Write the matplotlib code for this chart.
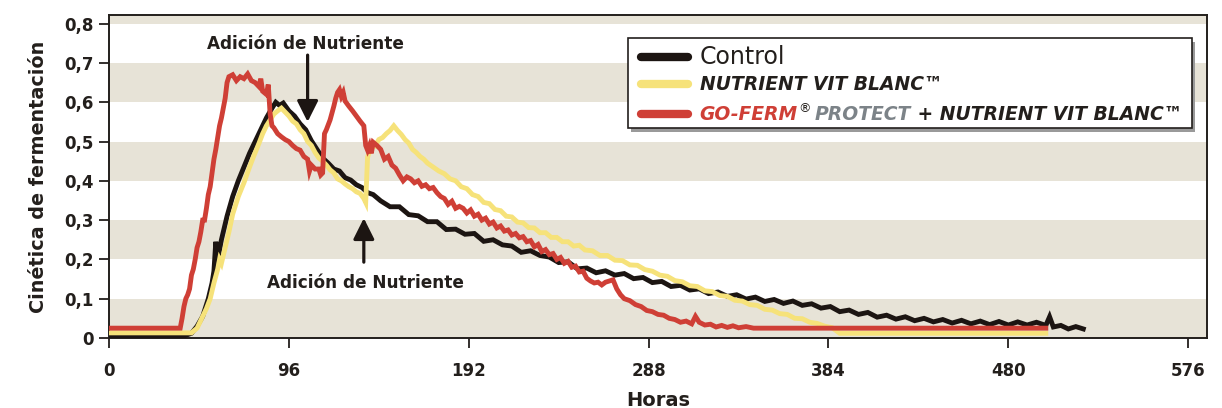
import matplotlib
matplotlib.use('Agg')
import matplotlib.pyplot as plt
from matplotlib.patches import Rectangle
from matplotlib.lines import Line2D

# ================= datos =================
hours_control = [0, 40, 44, 47, 50, 53, 55, 56, 57, 58, 60, 63, 66, 69, 72, 75, 78, 81, 84, 87,
                 89, 91, 93, 96, 99, 102, 105, 108, 111, 114, 117, 120, 123, 126, 129, 132, 135,
                 138, 141, 145, 150, 155, 160, 165, 170, 175, 180, 185, 190, 195, 200, 205, 210,
                 215, 220, 225, 230, 235, 240, 245, 250, 255, 260, 265, 270, 275, 280, 285, 290,
                 295, 300, 305, 310, 315, 320, 325, 330, 335, 340, 345, 350, 355, 360, 365, 370,
                 375, 380, 385, 390, 395, 400, 405, 410, 415, 420, 425, 430, 435, 440, 445, 450,
                 455, 460, 465, 470, 475, 480, 485, 490, 495, 500, 502, 504, 508, 512, 516, 520]
control = [0.005, 0.005, 0.012, 0.03, 0.055, 0.10, 0.14, 0.17, 0.245, 0.20, 0.25, 0.31, 0.36,
           0.40, 0.435, 0.47, 0.50, 0.53, 0.56, 0.585, 0.60, 0.592, 0.598, 0.578, 0.565, 0.545,
           0.530, 0.502, 0.48, 0.458, 0.445, 0.43, 0.425, 0.408, 0.402, 0.39, 0.383, 0.370,
           0.365, 0.349, 0.334, 0.334, 0.314, 0.311, 0.296, 0.296, 0.276, 0.277, 0.264, 0.266,
           0.246, 0.250, 0.237, 0.234, 0.218, 0.222, 0.210, 0.206, 0.192, 0.194, 0.176, 0.178,
           0.166, 0.171, 0.160, 0.164, 0.151, 0.154, 0.141, 0.144, 0.131, 0.134, 0.122, 0.125,
           0.113, 0.117, 0.106, 0.110, 0.099, 0.104, 0.093, 0.098, 0.088, 0.094, 0.083, 0.087,
           0.076, 0.080, 0.067, 0.071, 0.060, 0.065, 0.053, 0.058, 0.048, 0.054, 0.044, 0.050,
           0.041, 0.047, 0.038, 0.045, 0.036, 0.043, 0.034, 0.042, 0.033, 0.041, 0.033, 0.040,
           0.032, 0.054, 0.028, 0.032, 0.023, 0.029, 0.023]

hours_nvb = [0, 44, 47, 49, 52, 54, 56, 58, 59, 60, 62, 64, 66, 69, 72, 75, 77, 80, 82, 84, 86,
             88, 90, 92, 94, 96, 98, 100, 102, 104, 106, 108, 110, 112, 114, 116, 118, 120, 122,
             124, 126, 128, 130, 132, 134, 136, 137, 138, 140, 142, 144, 146, 148, 150, 152, 154,
             156, 158, 160, 162, 164, 166, 168, 170, 173, 176, 179, 182, 185, 188, 191, 194, 197,
             200, 203, 206, 209, 212, 215, 218, 221, 224, 227, 230, 233, 236, 239, 242, 245, 248,
             251, 254, 258, 262, 266, 270, 274, 278, 282, 286, 290, 294, 298, 302, 306, 310, 314,
             318, 322, 326, 330, 334, 338, 342, 346, 350, 354, 358, 362, 366, 370, 374, 378, 382,
             386, 390, 500]
nvb = [0.013, 0.013, 0.025, 0.045, 0.075, 0.10, 0.14, 0.175, 0.20, 0.19, 0.23, 0.27, 0.315,
       0.36, 0.395, 0.435, 0.46, 0.495, 0.52, 0.54, 0.555, 0.57, 0.578, 0.585, 0.575, 0.565,
       0.552, 0.545, 0.53, 0.52, 0.50, 0.49, 0.472, 0.458, 0.45, 0.44, 0.428, 0.42, 0.405, 0.40,
       0.392, 0.385, 0.38, 0.372, 0.368, 0.355, 0.345, 0.46, 0.49, 0.488, 0.505, 0.51, 0.52,
       0.528, 0.54, 0.528, 0.518, 0.505, 0.496, 0.48, 0.472, 0.462, 0.455, 0.445, 0.435, 0.425,
       0.418, 0.405, 0.400, 0.385, 0.38, 0.365, 0.36, 0.345, 0.342, 0.327, 0.324, 0.31, 0.308,
       0.295, 0.293, 0.281, 0.280, 0.268, 0.268, 0.256, 0.256, 0.245, 0.245, 0.234, 0.236,
       0.224, 0.222, 0.210, 0.210, 0.198, 0.197, 0.186, 0.185, 0.174, 0.170, 0.160, 0.157,
       0.146, 0.143, 0.133, 0.131, 0.120, 0.118, 0.108, 0.106, 0.096, 0.094, 0.085, 0.083,
       0.073, 0.071, 0.062, 0.060, 0.050, 0.049, 0.040, 0.037, 0.030, 0.026, 0.012, 0.012]

hours_gf = [0, 38, 39, 40, 41, 42, 43, 44, 45, 46, 47, 48, 49, 50, 51, 52, 53, 54, 55, 56, 57, 58,
            59, 60, 61, 62, 63, 64, 66, 68, 70, 72, 74, 76, 78, 80, 81, 82, 84, 85, 86, 87, 88,
            90, 92, 94, 96, 98, 100, 102, 104, 106, 107, 108, 110, 112, 113, 114, 115, 116, 118,
            120, 121, 122, 123, 124, 125, 126, 128, 130, 132, 134, 136, 137, 138, 139, 140, 141,
            143, 145, 147, 149, 151, 153, 155, 157, 159, 161, 163, 165, 167, 169, 171, 173, 175,
            177, 179, 181, 183, 185, 187, 189, 191, 193, 195, 197, 199, 201, 203, 205, 207, 209,
            211, 213, 215, 217, 219, 221, 223, 225, 227, 229, 231, 233, 235, 237, 239, 241, 243,
            245, 247, 249, 251, 253, 255, 257, 259, 261, 263, 265, 267, 269, 271, 273, 275, 278,
            281, 284, 287, 290, 293, 296, 299, 302, 305, 308, 311, 313, 315, 318, 321, 324, 327,
            330, 333, 336, 340, 344, 348, 500]
goferm = [0.025, 0.025, 0.05, 0.08, 0.10, 0.11, 0.125, 0.16, 0.175, 0.20, 0.23, 0.245, 0.27,
          0.30, 0.30, 0.33, 0.365, 0.385, 0.42, 0.455, 0.48, 0.51, 0.54, 0.56, 0.585, 0.61, 0.65,
          0.665, 0.67, 0.655, 0.665, 0.66, 0.672, 0.655, 0.65, 0.64, 0.66, 0.628, 0.62, 0.645,
          0.57, 0.54, 0.535, 0.52, 0.512, 0.505, 0.50, 0.49, 0.482, 0.478, 0.462, 0.455, 0.425,
          0.44, 0.43, 0.43, 0.415, 0.42, 0.52, 0.53, 0.555, 0.59, 0.61, 0.625, 0.632, 0.615,
          0.625, 0.603, 0.59, 0.578, 0.565, 0.552, 0.54, 0.49, 0.478, 0.49, 0.47, 0.498, 0.49,
          0.48, 0.455, 0.462, 0.44, 0.432, 0.415, 0.40, 0.41, 0.405, 0.395, 0.40, 0.386, 0.39,
          0.38, 0.383, 0.37, 0.36, 0.355, 0.34, 0.348, 0.33, 0.335, 0.33, 0.318, 0.326, 0.31,
          0.315, 0.30, 0.305, 0.29, 0.295, 0.28, 0.285, 0.272, 0.275, 0.262, 0.266, 0.255, 0.258,
          0.245, 0.248, 0.232, 0.238, 0.22, 0.225, 0.212, 0.215, 0.2, 0.205, 0.19, 0.195, 0.18,
          0.183, 0.168, 0.17, 0.152, 0.145, 0.14, 0.142, 0.135, 0.142, 0.145, 0.148, 0.125, 0.11,
          0.10, 0.095, 0.085, 0.08, 0.07, 0.067, 0.06, 0.058, 0.05, 0.047, 0.04, 0.043, 0.036,
          0.055, 0.04, 0.033, 0.035, 0.028, 0.032, 0.027, 0.031, 0.026, 0.029, 0.025, 0.025, 0.025]

x_ticks = [0, 96, 192, 288, 384, 480, 576]
y_ticks = [0, 0.1, 0.2, 0.3, 0.4, 0.5, 0.6, 0.7, 0.8]
y_ticklabels = ['0', '0,1', '0,2', '0,3', '0,4', '0,5', '0,6', '0,7', '0,8']

# ================= estilo =================
plt.rcParams['font.family'] = ['DejaVu Sans']
C_BLACK = '#1c1512'
C_YELLOW = '#f6e27a'
C_RED = '#cf3f36'
C_GRAY = '#7c8388'
C_BAND = '#e7e3d7'
C_TEXT = '#231f1c'

fig = plt.figure(figsize=(12.22, 4.08), dpi=100)
ax = fig.add_axes([0.0892, 0.1716, 0.8985, 0.7916])

# franjas de fondo
for lo, hi in [(0, 0.1), (0.2, 0.3), (0.4, 0.5), (0.6, 0.7), (0.8, 0.9)]:
    ax.axhspan(lo, hi, color=C_BAND, lw=0, zorder=0)

ax.plot(hours_control, control, color=C_BLACK, lw=3.5, zorder=3, solid_joinstyle='miter')
ax.plot(hours_nvb, nvb, color=C_YELLOW, lw=3.5, zorder=4, solid_joinstyle='miter')
ax.plot(hours_gf, goferm, color=C_RED, lw=3.5, zorder=5, solid_joinstyle='miter')

ax.set_xlim(0, 586)
ax.set_ylim(0, 0.822)
ax.set_xticks(x_ticks)
ax.set_xticklabels([str(t) for t in x_ticks])
ax.set_yticks(y_ticks)
ax.set_yticklabels(y_ticklabels)
ax.tick_params(direction='out', length=7, width=1.3, color=C_TEXT, labelcolor=C_TEXT,
               labelsize=12, pad=4)
ax.tick_params(axis='x', pad=10)
for lab in ax.get_xticklabels() + ax.get_yticklabels():
    lab.set_fontweight('bold')
for sp in ax.spines.values():
    sp.set_color(C_TEXT)
    sp.set_linewidth(1.4)

ax.set_xlabel('Horas', fontsize=14, fontweight='bold', color=C_TEXT, labelpad=8)
ax.set_ylabel('Cinética de fermentación', fontsize=13.8, fontweight='bold', color=C_TEXT,
              labelpad=12)

# anotaciones
arrow_kw = dict(arrowstyle='-|>,head_length=0.8,head_width=0.4', lw=2.3, color=C_BLACK,
                mutation_scale=16, shrinkA=0, shrinkB=0)
ax.annotate('', xy=(106, 0.55), xytext=(106, 0.72), arrowprops=arrow_kw, zorder=6)
ax.text(105, 0.748, 'Adición de Nutriente', ha='center', va='center', fontsize=12.2,
        fontweight='bold', color=C_TEXT, zorder=6)
ax.annotate('', xy=(136, 0.305), xytext=(136, 0.193), arrowprops=arrow_kw, zorder=6)
ax.text(137, 0.14, 'Adición de Nutriente', ha='center', va='center', fontsize=12.2,
        fontweight='bold', color=C_TEXT, zorder=6)

# leyenda construida a mano (texto multicolor)
tr = ax.transAxes
lx0, lx1, ly0, ly1 = 0.4727, 0.9863, 0.650, 0.929
ax.add_patch(Rectangle((lx0 + 0.003, ly0 - 0.012), lx1 - lx0, ly1 - ly0, transform=tr,
                       facecolor='#9a9a9a', edgecolor='none', zorder=7))
ax.add_patch(Rectangle((lx0, ly0), lx1 - lx0, ly1 - ly0, transform=tr, facecolor='white',
                       edgecolor=C_TEXT, lw=1.2, zorder=8))
rows_y = [0.870, 0.786, 0.693]
for yy, col in zip(rows_y, [C_BLACK, C_YELLOW, C_RED]):
    ax.add_line(Line2D([0.4847, 0.5271], [yy, yy], transform=tr, color=col, lw=6,
                       solid_capstyle='round', zorder=9))

tx = 0.538
ax.text(tx, rows_y[0], 'Control', transform=tr, fontsize=17, color=C_TEXT, va='center',
        zorder=9)
ax.text(tx, rows_y[1], 'NUTRIENT VIT BLANC™', transform=tr, fontsize=13.5, color=C_TEXT,
        fontweight='bold', fontstyle='italic', va='center', zorder=9)
t1 = ax.text(tx, rows_y[2], 'GO-FERM', transform=tr, fontsize=13.5, color=C_RED,
             fontweight='bold', fontstyle='italic', va='center', zorder=9)
ax.annotate('®', xycoords=t1, xy=(1, 0.45), xytext=(0.5, 0), textcoords='offset points',
            va='bottom', fontsize=9, color=C_TEXT, zorder=9)
t3 = ax.annotate('PROTECT', xycoords=t1, xy=(1, 0), xytext=(12, 0),
                 textcoords='offset points', va='bottom', fontsize=13.5, color=C_GRAY,
                 fontweight='bold', fontstyle='italic', zorder=9)
ax.annotate(' + NUTRIENT VIT BLANC™', xycoords=t3, xy=(1, 0), va='bottom', fontsize=13.5,
            color=C_TEXT, fontweight='bold', fontstyle='italic', zorder=9)

plt.savefig('out.png', dpi=100)
